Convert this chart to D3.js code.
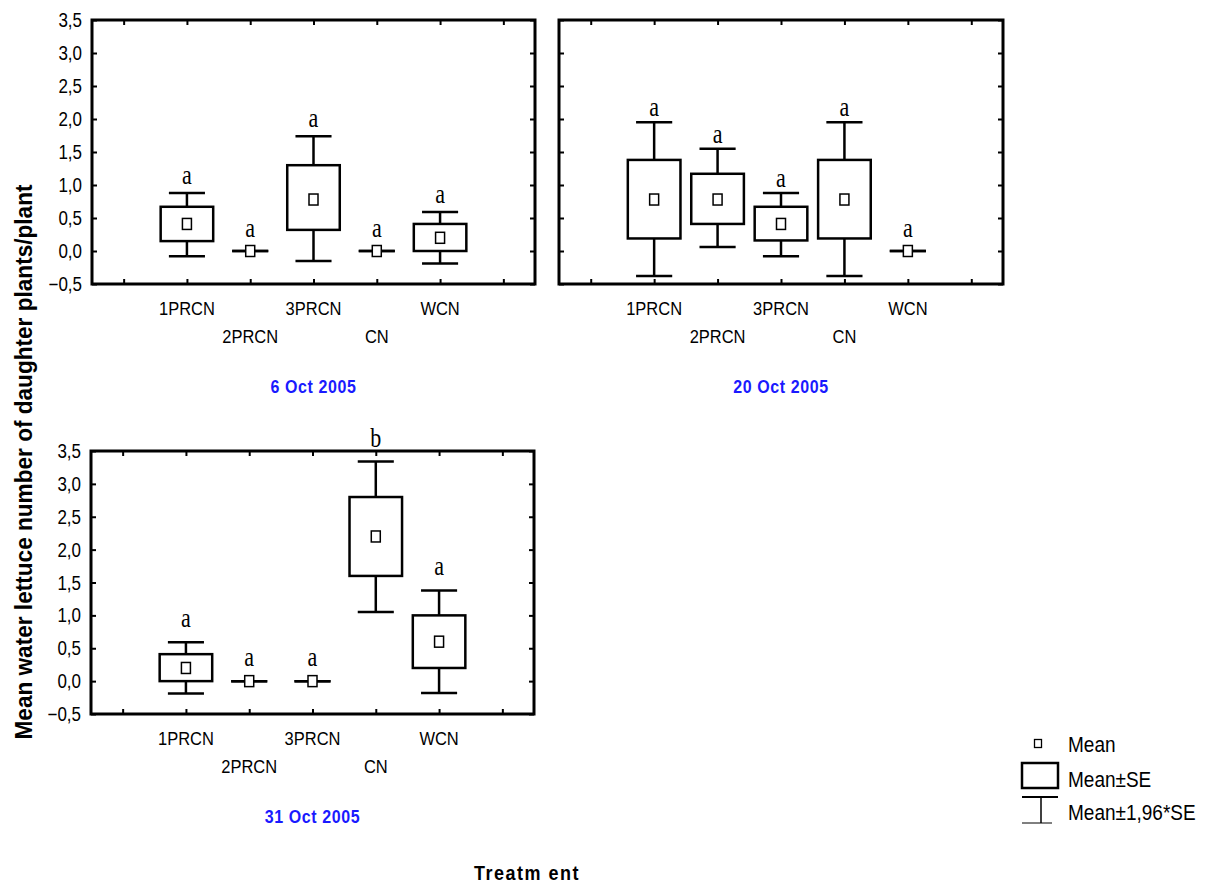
<!DOCTYPE html>
<html>
<head>
<meta charset="utf-8">
<script src="https://cdn.jsdelivr.net/npm/d3@7/dist/d3.min.js"></script>
<style>
  html, body { margin: 0; padding: 0; background: #fff; }
  svg { display: block; }
</style>
</head>
<body>
<svg id="chart" width="1213" height="890"></svg>
<script>
// ---------------- DATA ----------------
const categories = ["1PRCN", "2PRCN", "3PRCN", "CN", "WCN"];
const panelTitles = ["6 Oct 2005", "20 Oct 2005", "31 Oct 2005"];
const yTickValues = [-0.5, 0, 0.5, 1.0, 1.5, 2.0, 2.5, 3.0, 3.5];
const xTickIndices = [0, 1, 2, 3, 4, 5, 6];

// 6 Oct 2005
const mean1   = [0.41, 0, 0.78, 0, 0.20];
const seLow1  = [0.15, 0, 0.32, 0, 0.00];
const seHigh1 = [0.67, 0, 1.30, 0, 0.41];
const ciLow1  = [-0.08, 0, -0.15, 0, -0.19];
const ciHigh1 = [0.88, 0, 1.74, 0, 0.59];
const letters1 = ["a", "a", "a", "a", "a"];

// 20 Oct 2005
const mean2   = [0.78, 0.78, 0.41, 0.78, 0];
const seLow2  = [0.19, 0.41, 0.16, 0.19, 0];
const seHigh2 = [1.38, 1.17, 0.67, 1.38, 0];
const ciLow2  = [-0.38, 0.06, -0.08, -0.38, 0];
const ciHigh2 = [1.95, 1.55, 0.88, 1.95, 0];
const letters2 = ["a", "a", "a", "a", "a"];

// 31 Oct 2005
const mean3   = [0.20, 0, 0, 2.20, 0.60];
const seLow3  = [0.00, 0, 0, 1.60, 0.20];
const seHigh3 = [0.41, 0, 0, 2.80, 1.00];
const ciLow3  = [-0.19, 0, 0, 1.05, -0.18];
const ciHigh3 = [0.59, 0, 0, 3.34, 1.38];
const letters3 = ["a", "a", "a", "b", "a"];

const legendLabels = ["Mean", "Mean\u00B1SE", "Mean\u00B11,96*SE"];
const yAxisTitle = "Mean water lettuce number of daughter plants/plant";
const xAxisTitle = "Treatm ent";

// ---------------- LAYOUT ----------------
const svg = d3.select("#chart");
const STRETCH = 1.15;
const sans = "'Liberation Sans', Arial, sans-serif";
const serif = "'Liberation Serif', 'Times New Roman', serif";

function stretchedText(g, x, y, txt, opts) {
  const t = g.append("text")
    .attr("transform", `translate(${x},${y}) scale(1,${opts.sy || STRETCH})`)
    .attr("x", 0).attr("y", 0)
    .attr("text-anchor", opts.anchor || "middle")
    .attr("font-family", opts.family || sans)
    .attr("font-size", opts.size || 16)
    .attr("font-weight", opts.weight || "normal")
    .attr("fill", opts.fill || "#000")
    .text(txt);
  if (opts.dy) t.attr("dy", opts.dy);
  if (opts.ls) t.attr("letter-spacing", opts.ls);
  return t;
}

const fmt = v => d3.format(".1f")(v).replace(".", ",");

const panels = [
  { x0: 92, x1: 535, y0: 20, y1: 284, yLabels: true, gap: 9,
    mean: mean1, seLow: seLow1, seHigh: seHigh1, ciLow: ciLow1, ciHigh: ciHigh1, letters: letters1, title: panelTitles[0] },
  { x0: 559, x1: 1003, y0: 20, y1: 284, yLabels: false, gap: 6,
    mean: mean2, seLow: seLow2, seHigh: seHigh2, ciLow: ciLow2, ciHigh: ciHigh2, letters: letters2, title: panelTitles[1] },
  { x0: 91, x1: 534, y0: 451, y1: 714, yLabels: true, gap: 15,
    mean: mean3, seLow: seLow3, seHigh: seHigh3, ciLow: ciLow3, ciHigh: ciHigh3, letters: letters3, title: panelTitles[2] }
];

panels.forEach(p => {
  const g = svg.append("g");
  const x = d3.scaleLinear().domain([-0.5, 6.5]).range([p.x0, p.x1]);
  const y = d3.scaleLinear().domain([-0.5, 3.5]).range([p.y1, p.y0]);
  const step = x(1) - x(0);
  const boxW = step * 0.83;
  const capW = step * 0.57;
  const tickLen = 5;

  // inward ticks on four sides using d3 axes
  const axTop = d3.axisBottom(x).tickValues(xTickIndices).tickSize(tickLen).tickFormat("");
  const axBot = d3.axisTop(x).tickValues(xTickIndices).tickSize(tickLen).tickFormat("");
  const axLeft = d3.axisRight(y).tickValues(yTickValues).tickSize(tickLen).tickFormat("");
  const axRight = d3.axisLeft(y).tickValues(yTickValues).tickSize(tickLen).tickFormat("");
  [[axTop, `translate(0,${p.y0})`], [axBot, `translate(0,${p.y1})`],
   [axLeft, `translate(${p.x0},0)`], [axRight, `translate(${p.x1},0)`]].forEach(([ax, tr]) => {
    const a = g.append("g").attr("transform", tr).call(ax);
    a.select(".domain").remove();
    a.selectAll(".tick line").attr("stroke", "#000").attr("stroke-width", 2);
  });

  // frame
  g.append("rect")
    .attr("x", p.x0).attr("y", p.y0)
    .attr("width", p.x1 - p.x0).attr("height", p.y1 - p.y0)
    .attr("fill", "none").attr("stroke", "#000").attr("stroke-width", 3);

  // y tick labels
  if (p.yLabels) {
    yTickValues.forEach(v => {
      stretchedText(g, p.x0 - 10, y(v), fmt(v), { anchor: "end", size: 17, dy: "0.36em" });
    });
  }

  // boxes
  categories.forEach((c, i) => {
    const cx = x(i + 1);
    // whisker stems
    g.append("line").attr("x1", cx).attr("x2", cx)
      .attr("y1", y(p.ciHigh[i])).attr("y2", y(p.seHigh[i]))
      .attr("stroke", "#000").attr("stroke-width", 2.5);
    g.append("line").attr("x1", cx).attr("x2", cx)
      .attr("y1", y(p.seLow[i])).attr("y2", y(p.ciLow[i]))
      .attr("stroke", "#000").attr("stroke-width", 2.5);
    // caps
    [p.ciHigh[i], p.ciLow[i]].forEach(v => {
      g.append("line").attr("x1", cx - capW / 2).attr("x2", cx + capW / 2)
        .attr("y1", y(v)).attr("y2", y(v))
        .attr("stroke", "#000").attr("stroke-width", 2.5);
    });
    // SE box
    g.append("rect")
      .attr("x", cx - boxW / 2).attr("width", boxW)
      .attr("y", y(p.seHigh[i])).attr("height", Math.max(0, y(p.seLow[i]) - y(p.seHigh[i])))
      .attr("fill", "none").attr("stroke", "#000").attr("stroke-width", 2.5);
    // mean marker
    g.append("rect")
      .attr("x", cx - 4.5).attr("y", y(p.mean[i]) - 5.5)
      .attr("width", 9).attr("height", 11)
      .attr("fill", "#fff").attr("stroke", "#000").attr("stroke-width", 1.5);
    // letter
    const ly = Math.min(y(p.ciHigh[i]) - p.gap, y(p.mean[i]) - 14);
    stretchedText(g, cx, ly, p.letters[i], { family: serif, size: 22, sy: 1.25 });
    // category label (staggered)
    const row = i % 2 === 0 ? 31 : 59;
    stretchedText(g, cx, p.y1 + row, c, { size: 16.5 });
  });

  // panel title
  stretchedText(g, (p.x0 + p.x1) / 2, p.y1 + 109, p.title,
    { size: 16, weight: "bold", fill: "#1a1aff", ls: 0.6 });
});

// y axis title
svg.append("text")
  .attr("transform", "translate(32,462) rotate(-90)")
  .attr("text-anchor", "middle")
  .attr("font-family", sans)
  .attr("font-weight", "bold")
  .attr("font-size", 24)
  .attr("textLength", 555)
  .attr("lengthAdjust", "spacingAndGlyphs")
  .text(yAxisTitle);

// x axis title
stretchedText(svg, 527, 880, xAxisTitle, { size: 18, weight: "bold", ls: 1.5 });

// legend
const lg = svg.append("g");
lg.append("rect").attr("x", 1034.5).attr("y", 739.5).attr("width", 7).attr("height", 8)
  .attr("fill", "#fff").attr("stroke", "#000").attr("stroke-width", 1.3);
lg.append("rect").attr("x", 1022).attr("y", 763).attr("width", 36).attr("height", 25)
  .attr("fill", "none").attr("stroke", "#000").attr("stroke-width", 2.5);
lg.append("line").attr("x1", 1022).attr("x2", 1058).attr("y1", 797).attr("y2", 797)
  .attr("stroke", "#000").attr("stroke-width", 2);
lg.append("line").attr("x1", 1041).attr("x2", 1041).attr("y1", 797).attr("y2", 823)
  .attr("stroke", "#000").attr("stroke-width", 1.5);
lg.append("line").attr("x1", 1022).attr("x2", 1052).attr("y1", 823).attr("y2", 823)
  .attr("stroke", "#000").attr("stroke-width", 1);
[752, 787, 820].forEach((by, i) => {
  stretchedText(lg, 1068, by, legendLabels[i], { anchor: "start", size: 19 });
});
</script>
</body>
</html>
